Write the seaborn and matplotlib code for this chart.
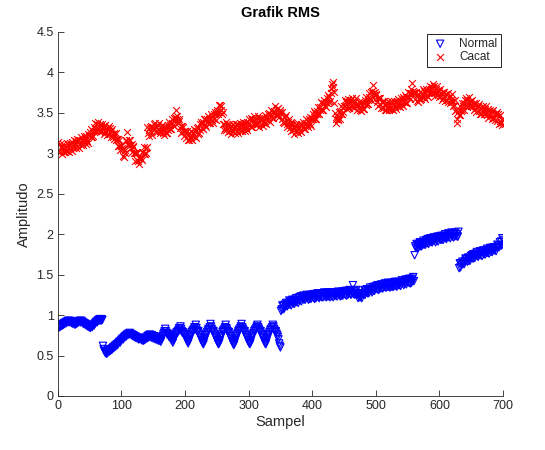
import numpy as np
import pandas as pd
import matplotlib
matplotlib.use("Agg")
import matplotlib.pyplot as plt
import seaborn as sns

title = "Grafik RMS"
x_label = "Sampel"
y_label = "Amplitudo"
series_names = ["Normal", "Cacat"]
x_ticks = [0, 100, 200, 300, 400, 500, 600, 700]
y_ticks = [0, 0.5, 1, 1.5, 2, 2.5, 3, 3.5, 4, 4.5]
y_tick_labels = ["0", "0.5", "1", "1.5", "2", "2.5", "3", "3.5", "4", "4.5"]

normal = [
    0.84, 0.86, 0.85, 0.87, 0.86, 0.88, 0.87, 0.89, 0.88, 0.90,
    0.89, 0.91, 0.90, 0.92, 0.91, 0.93, 0.92, 0.91, 0.93, 0.92,
    0.91, 0.90, 0.92, 0.89, 0.91, 0.90, 0.88, 0.90, 0.89, 0.91,
    0.90, 0.92, 0.91, 0.93, 0.92, 0.91, 0.93, 0.92, 0.90, 0.91,
    0.89, 0.90, 0.88, 0.89, 0.87, 0.88, 0.86, 0.87, 0.85, 0.86,
    0.84, 0.85, 0.86, 0.85, 0.87, 0.88, 0.87, 0.89, 0.90, 0.91,
    0.92, 0.91, 0.93, 0.94, 0.93, 0.95, 0.94, 0.93, 0.95, 0.94,
    0.62, 0.58, 0.56, 0.55, 0.53, 0.54, 0.52, 0.55, 0.54, 0.56,
    0.55, 0.57, 0.56, 0.58, 0.57, 0.59, 0.60, 0.59, 0.61, 0.62,
    0.61, 0.63, 0.64, 0.63, 0.65, 0.66, 0.67, 0.66, 0.68, 0.69,
    0.70, 0.71, 0.70, 0.72, 0.73, 0.74, 0.73, 0.75, 0.76, 0.75,
    0.77, 0.76, 0.78, 0.77, 0.76, 0.75, 0.76, 0.74, 0.75, 0.73,
    0.74, 0.72, 0.73, 0.72, 0.71, 0.72, 0.70, 0.71, 0.70, 0.72,
    0.71, 0.69, 0.70, 0.68, 0.70, 0.69, 0.71, 0.70, 0.72, 0.71,
    0.74, 0.72, 0.75, 0.73, 0.76, 0.74, 0.72, 0.75, 0.73, 0.71,
    0.74, 0.72, 0.70, 0.73, 0.71, 0.69, 0.72, 0.70, 0.68, 0.71,
    0.69, 0.67, 0.70, 0.72, 0.74, 0.76, 0.78, 0.80, 0.83, 0.80,
    0.78, 0.76, 0.77, 0.75, 0.73, 0.74, 0.72, 0.70, 0.71, 0.68,
    0.66, 0.69, 0.71, 0.73, 0.75, 0.77, 0.79, 0.78, 0.80, 0.82,
    0.84, 0.81, 0.86, 0.83, 0.80, 0.78, 0.79, 0.77, 0.75, 0.76,
    0.73, 0.71, 0.69, 0.67, 0.65, 0.68, 0.70, 0.73, 0.75, 0.77,
    0.79, 0.81, 0.80, 0.83, 0.85, 0.82, 0.88, 0.84, 0.81, 0.79,
    0.80, 0.77, 0.75, 0.73, 0.71, 0.69, 0.67, 0.65, 0.64, 0.67,
    0.70, 0.72, 0.75, 0.77, 0.79, 0.81, 0.83, 0.82, 0.85, 0.89,
    0.86, 0.83, 0.81, 0.79, 0.80, 0.77, 0.75, 0.73, 0.71, 0.69,
    0.67, 0.65, 0.64, 0.66, 0.69, 0.72, 0.74, 0.76, 0.79, 0.81,
    0.80, 0.83, 0.85, 0.88, 0.84, 0.82, 0.80, 0.78, 0.79, 0.76,
    0.74, 0.72, 0.70, 0.68, 0.66, 0.64, 0.63, 0.66, 0.69, 0.71,
    0.74, 0.76, 0.78, 0.80, 0.82, 0.81, 0.84, 0.86, 0.89, 0.85,
    0.83, 0.81, 0.79, 0.80, 0.77, 0.75, 0.73, 0.71, 0.69, 0.67,
    0.65, 0.64, 0.66, 0.69, 0.72, 0.74, 0.76, 0.78, 0.80, 0.82,
    0.81, 0.84, 0.86, 0.88, 0.85, 0.83, 0.81, 0.79, 0.80, 0.77,
    0.75, 0.73, 0.71, 0.69, 0.67, 0.65, 0.64, 0.67, 0.70, 0.72,
    0.75, 0.77, 0.79, 0.81, 0.83, 0.82, 0.85, 0.88, 0.86, 0.83,
    0.81, 0.79, 0.80, 0.77, 0.75, 0.73, 0.70, 0.65, 0.62, 0.60,
    1.05, 1.07, 1.12, 1.07, 1.11, 1.08, 1.13, 1.11, 1.15, 1.11,
    1.11, 1.15, 1.13, 1.18, 1.13, 1.17, 1.12, 1.17, 1.19, 1.14,
    1.18, 1.14, 1.19, 1.16, 1.21, 1.16, 1.18, 1.15, 1.21, 1.22,
    1.18, 1.23, 1.17, 1.23, 1.20, 1.24, 1.19, 1.22, 1.19, 1.23,
    1.25, 1.21, 1.23, 1.19, 1.24, 1.20, 1.25, 1.20, 1.23, 1.25,
    1.25, 1.21, 1.26, 1.20, 1.24, 1.21, 1.26, 1.23, 1.27, 1.22,
    1.21, 1.25, 1.23, 1.27, 1.22, 1.27, 1.22, 1.26, 1.28, 1.23,
    1.26, 1.22, 1.27, 1.23, 1.28, 1.23, 1.25, 1.22, 1.27, 1.28,
    1.23, 1.28, 1.22, 1.27, 1.24, 1.28, 1.24, 1.27, 1.23, 1.27,
    1.29, 1.25, 1.27, 1.23, 1.28, 1.24, 1.29, 1.24, 1.27, 1.29,
    1.29, 1.25, 1.30, 1.24, 1.28, 1.25, 1.30, 1.27, 1.31, 1.26,
    1.25, 1.29, 1.27, 1.37, 1.26, 1.30, 1.25, 1.29, 1.31, 1.26,
    1.25, 1.21, 1.26, 1.22, 1.27, 1.22, 1.24, 1.21, 1.26, 1.27,
    1.25, 1.31, 1.25, 1.30, 1.28, 1.32, 1.27, 1.30, 1.27, 1.31,
    1.34, 1.30, 1.32, 1.28, 1.34, 1.30, 1.35, 1.30, 1.33, 1.35,
    1.36, 1.32, 1.37, 1.31, 1.35, 1.32, 1.37, 1.34, 1.38, 1.33,
    1.33, 1.37, 1.35, 1.39, 1.34, 1.39, 1.34, 1.38, 1.40, 1.35,
    1.38, 1.34, 1.39, 1.35, 1.40, 1.35, 1.38, 1.35, 1.40, 1.41,
    1.36, 1.41, 1.35, 1.40, 1.37, 1.41, 1.37, 1.40, 1.36, 1.40,
    1.43, 1.39, 1.41, 1.37, 1.42, 1.39, 1.44, 1.38, 1.41, 1.43,
    1.44, 1.40, 1.45, 1.39, 1.44, 1.40, 1.45, 1.42, 1.47, 1.42,
    1.74, 1.85, 1.83, 1.88, 1.83, 1.87, 1.83, 1.87, 1.90, 1.85,
    1.89, 1.85, 1.90, 1.87, 1.92, 1.87, 1.89, 1.87, 1.92, 1.93,
    1.89, 1.94, 1.88, 1.94, 1.91, 1.95, 1.90, 1.93, 1.90, 1.94,
    1.96, 1.92, 1.94, 1.90, 1.96, 1.92, 1.97, 1.91, 1.95, 1.97,
    1.97, 1.93, 1.98, 1.93, 1.97, 1.93, 1.98, 1.96, 2.00, 1.95,
    1.94, 1.98, 1.97, 2.01, 1.96, 2.00, 1.95, 2.00, 2.02, 1.97,
    2.00, 1.96, 2.01, 1.97, 2.02, 1.98, 2.00, 1.97, 1.97, 2.03,
    1.58, 1.64, 1.59, 1.64, 1.62, 1.66, 1.63, 1.65, 1.63, 1.67,
    1.70, 1.67, 1.69, 1.66, 1.71, 1.67, 1.71, 1.67, 1.71, 1.73,
    1.74, 1.70, 1.75, 1.70, 1.75, 1.71, 1.76, 1.74, 1.78, 1.73,
    1.72, 1.76, 1.75, 1.79, 1.74, 1.78, 1.73, 1.78, 1.80, 1.75,
    1.79, 1.75, 1.80, 1.77, 1.82, 1.77, 1.79, 1.76, 1.82, 1.83,
    1.78, 1.83, 1.78, 1.83, 1.80, 1.84, 1.80, 1.83, 1.79, 1.84,
    1.87, 1.84, 1.86, 1.84, 1.90, 1.86, 1.91, 1.86, 1.95, 1.93,
]

cacat = [
    3.14, 3.03, 3.12, 3.01, 3.08, 2.99, 3.08, 3.03, 3.11, 3.01,
    3.01, 3.08, 3.04, 3.13, 3.03, 3.11, 3.01, 3.10, 3.13, 3.05,
    3.11, 3.03, 3.14, 3.07, 3.16, 3.08, 3.12, 3.06, 3.15, 3.18,
    3.09, 3.17, 3.07, 3.16, 3.12, 3.20, 3.10, 3.16, 3.10, 3.17,
    3.22, 3.14, 3.19, 3.11, 3.22, 3.15, 3.24, 3.13, 3.21, 3.23,
    3.26, 3.20, 3.30, 3.20, 3.28, 3.22, 3.32, 3.28, 3.37, 3.28,
    3.29, 3.36, 3.31, 3.39, 3.29, 3.36, 3.26, 3.34, 3.36, 3.28,
    3.32, 3.24, 3.34, 3.26, 3.35, 3.26, 3.30, 3.23, 3.31, 3.34,
    3.24, 3.31, 3.20, 3.28, 3.24, 3.30, 3.20, 3.25, 3.18, 3.24,
    3.25, 3.16, 3.18, 3.09, 3.18, 3.09, 3.16, 3.04, 3.09, 3.10,
    3.06, 2.97, 3.05, 2.95, 3.04, 3.00, 3.15, 3.16, 3.26, 3.12,
    3.10, 3.16, 3.10, 3.17, 3.06, 3.12, 3.01, 3.08, 3.09, 3.00,
    3.00, 2.91, 3.00, 2.92, 3.00, 2.91, 2.94, 2.87, 2.94, 2.96,
    2.93, 3.02, 2.92, 3.02, 2.99, 3.08, 2.99, 3.06, 3.00, 3.08,
    3.33, 3.25, 3.30, 3.22, 3.32, 3.26, 3.34, 3.23, 3.31, 3.33,
    3.36, 3.29, 3.38, 3.27, 3.34, 3.26, 3.35, 3.30, 3.38, 3.28,
    3.25, 3.32, 3.28, 3.35, 3.25, 3.33, 3.23, 3.30, 3.33, 3.25,
    3.32, 3.25, 3.35, 3.29, 3.39, 3.30, 3.35, 3.30, 3.38, 3.42,
    3.35, 3.44, 3.34, 3.45, 3.43, 3.53, 3.42, 3.46, 3.37, 3.42,
    3.40, 3.31, 3.34, 3.25, 3.34, 3.26, 3.33, 3.21, 3.27, 3.28,
    3.26, 3.19, 3.28, 3.17, 3.24, 3.16, 3.25, 3.20, 3.28, 3.18,
    3.17, 3.25, 3.21, 3.30, 3.20, 3.29, 3.19, 3.28, 3.31, 3.24,
    3.32, 3.25, 3.36, 3.29, 3.39, 3.31, 3.36, 3.30, 3.39, 3.43,
    3.35, 3.43, 3.33, 3.42, 3.39, 3.46, 3.37, 3.43, 3.37, 3.44,
    3.48, 3.41, 3.45, 3.38, 3.49, 3.42, 3.51, 3.41, 3.48, 3.51,
    3.54, 3.49, 3.60, 3.51, 3.60, 3.54, 3.59, 3.48, 3.51, 3.36,
    3.29, 3.36, 3.31, 3.39, 3.29, 3.36, 3.26, 3.34, 3.36, 3.28,
    3.32, 3.24, 3.34, 3.27, 3.36, 3.27, 3.31, 3.25, 3.33, 3.36,
    3.28, 3.36, 3.25, 3.35, 3.31, 3.38, 3.28, 3.35, 3.28, 3.35,
    3.39, 3.31, 3.35, 3.27, 3.38, 3.31, 3.39, 3.29, 3.36, 3.38,
    3.42, 3.35, 3.44, 3.33, 3.41, 3.33, 3.42, 3.37, 3.46, 3.36,
    3.35, 3.42, 3.38, 3.46, 3.36, 3.44, 3.33, 3.41, 3.44, 3.36,
    3.42, 3.34, 3.44, 3.37, 3.47, 3.38, 3.42, 3.36, 3.45, 3.48,
    3.41, 3.50, 3.39, 3.49, 3.46, 3.53, 3.44, 3.51, 3.44, 3.52,
    3.58, 3.50, 3.54, 3.46, 3.55, 3.48, 3.56, 3.45, 3.51, 3.53,
    3.50, 3.42, 3.51, 3.39, 3.45, 3.37, 3.45, 3.39, 3.47, 3.36,
    3.33, 3.39, 3.35, 3.42, 3.31, 3.39, 3.28, 3.35, 3.38, 3.29,
    3.32, 3.24, 3.34, 3.27, 3.36, 3.27, 3.31, 3.25, 3.33, 3.36,
    3.28, 3.36, 3.26, 3.35, 3.32, 3.39, 3.30, 3.36, 3.30, 3.37,
    3.43, 3.35, 3.40, 3.32, 3.43, 3.36, 3.45, 3.34, 3.42, 3.44,
    3.48, 3.42, 3.52, 3.42, 3.50, 3.42, 3.52, 3.48, 3.57, 3.48,
    3.49, 3.57, 3.54, 3.63, 3.54, 3.62, 3.53, 3.62, 3.66, 3.59,
    3.64, 3.57, 3.68, 3.62, 3.72, 3.64, 3.69, 3.65, 3.75, 3.81,
    3.86, 3.82, 3.88, 3.76, 3.62, 3.50, 3.42, 3.38, 3.46, 3.41,
    3.42, 3.51, 3.42, 3.52, 3.49, 3.58, 3.49, 3.56, 3.51, 3.59,
    3.66, 3.58, 3.63, 3.55, 3.65, 3.59, 3.67, 3.56, 3.64, 3.66,
    3.66, 3.59, 3.68, 3.57, 3.64, 3.56, 3.65, 3.60, 3.68, 3.58,
    3.53, 3.60, 3.56, 3.64, 3.54, 3.62, 3.52, 3.60, 3.63, 3.55,
    3.62, 3.55, 3.66, 3.60, 3.70, 3.61, 3.66, 3.61, 3.70, 3.74,
    3.67, 3.76, 3.66, 3.77, 3.75, 3.84, 3.72, 3.76, 3.67, 3.72,
    3.73, 3.64, 3.68, 3.59, 3.68, 3.61, 3.68, 3.56, 3.63, 3.64,
    3.63, 3.56, 3.65, 3.54, 3.61, 3.53, 3.62, 3.57, 3.65, 3.55,
    3.53, 3.60, 3.56, 3.65, 3.55, 3.63, 3.53, 3.61, 3.65, 3.57,
    3.63, 3.55, 3.65, 3.58, 3.67, 3.58, 3.63, 3.57, 3.65, 3.68,
    3.60, 3.69, 3.58, 3.68, 3.64, 3.72, 3.62, 3.69, 3.62, 3.70,
    3.76, 3.69, 3.74, 3.67, 3.79, 3.75, 3.87, 3.74, 3.77, 3.75,
    3.74, 3.67, 3.76, 3.65, 3.72, 3.64, 3.73, 3.68, 3.76, 3.66,
    3.67, 3.74, 3.70, 3.79, 3.69, 3.77, 3.67, 3.76, 3.79, 3.71,
    3.77, 3.70, 3.80, 3.74, 3.83, 3.75, 3.79, 3.74, 3.82, 3.86,
    3.75, 3.83, 3.71, 3.80, 3.76, 3.83, 3.72, 3.78, 3.70, 3.77,
    3.79, 3.71, 3.75, 3.66, 3.76, 3.68, 3.76, 3.65, 3.71, 3.73,
    3.73, 3.66, 3.75, 3.63, 3.70, 3.62, 3.71, 3.66, 3.73, 3.63,
    3.59, 3.65, 3.60, 3.66, 3.52, 3.54, 3.38, 3.42, 3.51, 3.47,
    3.54, 3.47, 3.58, 3.52, 3.62, 3.53, 3.58, 3.53, 3.62, 3.66,
    3.60, 3.68, 3.57, 3.66, 3.62, 3.69, 3.59, 3.65, 3.58, 3.65,
    3.66, 3.58, 3.61, 3.53, 3.62, 3.55, 3.62, 3.51, 3.57, 3.59,
    3.59, 3.52, 3.61, 3.49, 3.56, 3.48, 3.57, 3.52, 3.59, 3.49,
    3.48, 3.55, 3.51, 3.58, 3.47, 3.55, 3.44, 3.52, 3.54, 3.46,
    3.50, 3.42, 3.52, 3.44, 3.53, 3.44, 3.48, 3.41, 3.49, 3.51,
    3.40, 3.48, 3.36, 3.46, 3.40, 3.47, 3.37, 3.42, 3.35, 3.41,
]

sample = np.arange(1, len(normal) + 1)

sns.set_style("white")
plt.rcParams["font.family"] = ["Liberation Sans", "DejaVu Sans"]

fig = plt.figure(figsize=(5.45, 4.5), dpi=100)
ax = fig.add_axes([0.106, 0.12, 0.817, 0.809])

df_n = pd.DataFrame({"Sampel": sample, "Amplitudo": normal})
df_c = pd.DataFrame({"Sampel": np.arange(1, len(cacat) + 1), "Amplitudo": cacat})

sns.scatterplot(data=df_n, x="Sampel", y="Amplitudo", ax=ax, marker="v",
                s=28, facecolors="none", edgecolor=(0, 0, 1), linewidth=0.8,
                label=series_names[0])
sns.scatterplot(data=df_c, x="Sampel", y="Amplitudo", ax=ax, marker="x",
                s=24, color=(1, 0, 0), linewidth=0.8, label=series_names[1])

ax.set_xlim(0, 700)
ax.set_ylim(0, 4.5)
ax.set_xticks(x_ticks)
ax.set_yticks(y_ticks)
ax.set_yticklabels(y_tick_labels)
tick_color = (0.15, 0.15, 0.15)
ax.tick_params(direction="in", length=4, width=0.6, colors=tick_color,
               labelsize=9, top=False, right=False, bottom=True, left=True, pad=3)
for side in ["top", "right"]:
    ax.spines[side].set_visible(False)
for side in ["left", "bottom"]:
    ax.spines[side].set_color(tick_color)
    ax.spines[side].set_linewidth(0.6)

ax.set_xlabel(x_label, fontsize=10.5, color=tick_color, labelpad=2)
ax.set_ylabel(y_label, fontsize=10.5, color=tick_color, labelpad=4)
ax.set_title(title, fontsize=10.5, fontweight="bold", color="black", pad=11)

leg = ax.legend(loc="upper right", fontsize=8.5, frameon=True, fancybox=False,
                edgecolor="black", framealpha=1, borderpad=0.3,
                handletextpad=0.8, labelspacing=0.1, borderaxespad=0.2,
                handlelength=1.6)
leg.get_frame().set_linewidth(0.6)

fig.savefig("out.png", dpi=100, facecolor="white")
